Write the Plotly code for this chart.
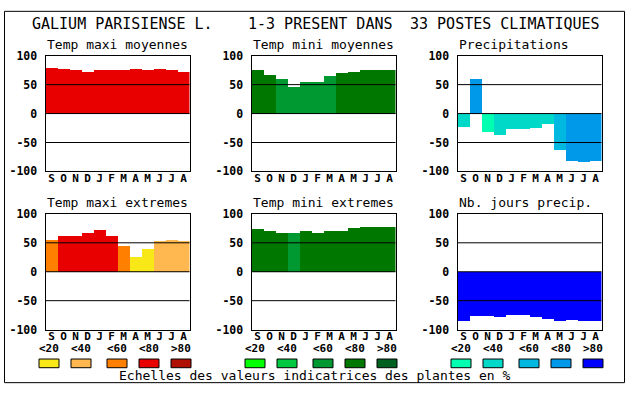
import plotly.graph_objects as go

W, H = 630, 394

months = ["S", "O", "N", "D", "J", "F", "M", "A", "M", "J", "J", "A"]
y_ticks = [-100, -50, 0, 50, 100]
classes = ["<20", "<40", "<60", "<80", ">80"]

temp_colors = ["#F8E818", "#FFB850", "#FF8000", "#E80000", "#B01000"]
tmin_colors = ["#00FF00", "#00C840", "#009830", "#007800", "#006020"]
prec_colors = ["#00FFB0", "#00D8C8", "#00B8E0", "#0098E8", "#0000FF"]

tmax_moy = [80, 77, 75, 73, 75, 75, 75, 77, 75, 77, 75, 73]
tmax_moy_cls = [3, 3, 3, 3, 3, 3, 3, 3, 3, 3, 3, 3]
tmin_moy = [75, 67, 60, 47, 55, 55, 65, 70, 73, 75, 75, 75]
tmin_moy_cls = [3, 3, 2, 2, 2, 2, 2, 3, 3, 3, 3, 3]
prec = [-22, 60, -31, -36, -26, -26, -24, -18, -62, -82, -84, -81]
prec_cls = [1, 3, 0, 1, 1, 1, 1, 1, 2, 3, 3, 3]
tmax_ext = [55, 62, 62, 68, 72, 62, 44, 25, 40, 54, 55, 54]
tmax_ext_cls = [2, 3, 3, 3, 3, 3, 2, 0, 0, 1, 1, 1]
tmin_ext = [74, 70, 68, 68, 70, 68, 70, 70, 75, 77, 77, 77]
tmin_ext_cls = [3, 3, 3, 2, 3, 3, 3, 3, 3, 3, 3, 3]
nb_jours = [-85, -76, -76, -78, -74, -74, -78, -81, -85, -83, -85, -85]
nb_jours_cls = [4, 4, 4, 4, 4, 4, 4, 4, 4, 4, 4, 4]

title_parts = ["GALIUM PARISIENSE L.", "1-3 PRESENT DANS", "33 POSTES CLIMATIQUES"]
panel_titles = ["Temp maxi moyennes", "Temp mini moyennes", "Precipitations",
                "Temp maxi extremes", "Temp mini extremes", "Nb. jours precip."]
footer = "Echelles des valeurs indicatrices des plantes en %"

MONO = "DejaVu Sans Mono"

panels = [
    (tmax_moy, tmax_moy_cls, temp_colors),
    (tmin_moy, tmin_moy_cls, tmin_colors),
    (prec, prec_cls, prec_colors),
    (tmax_ext, tmax_ext_cls, temp_colors),
    (tmin_ext, tmin_ext_cls, tmin_colors),
    (nb_jours, nb_jours_cls, prec_colors),
]

col_left = [45.5, 251.5, 457.5]
plot_w = 144
row_top = [50.5, 214.5]
plot_h = 120


def px_x(p):
    return p / W


def px_y(p):
    return 1 - p / H


fig = go.Figure()
shapes = []
annotations = []
layout_axes = {}

for i, (vals, cls, cols) in enumerate(panels):
    n = i + 1
    r, c = divmod(i, 3)
    xs = "" if n == 1 else str(n)
    x0p, x1p = col_left[c], col_left[c] + plot_w
    y0p, y1p = row_top[r], row_top[r] + plot_h
    fig.add_trace(go.Bar(
        x=list(range(len(months))), y=vals,
        marker=dict(color=[cols[k] for k in cls], line=dict(width=0)),
        width=1.0, xaxis="x" + xs, yaxis="y" + xs, showlegend=False,
        hoverinfo="skip",
    ))
    layout_axes["xaxis" + xs] = dict(
        domain=[px_x(x0p), px_x(x1p)], anchor="y" + xs,
        range=[-0.5, 11.5], tickvals=list(range(12)), ticktext=months,
        showgrid=False, zeroline=False, showline=True, mirror=True,
        linecolor="black", linewidth=1, ticks="",
        ticklabelstandoff=-4,
        tickfont=dict(family=MONO, size=11, color="black", weight="bold"),
        fixedrange=True,
    )
    layout_axes["yaxis" + xs] = dict(
        domain=[px_y(y1p), px_y(y0p)], anchor="x" + xs,
        range=[-100, 100], tickvals=y_ticks, ticktext=[str(v) for v in y_ticks],
        showgrid=False, zeroline=False, showline=True, mirror=True,
        linecolor="black", linewidth=1, ticks="outside", ticklen=5,
        tickcolor="rgba(0,0,0,0)",
        tickfont=dict(family=MONO, size=11.5, color="black", weight="bold"),
        fixedrange=True,
    )
    for v in (50, 0, -50):
        shapes.append(dict(type="line", xref="x" + xs + " domain", x0=0, x1=1,
                           yref="y" + xs, y0=v, y1=v, layer="above",
                           line=dict(color="black", width=1)))
    annotations.append(dict(
        text=panel_titles[i], xref="paper", yref="paper",
        x=px_x(x0p - 1), y=px_y(y0p - 11.5), xanchor="left", yanchor="middle",
        showarrow=False, font=dict(family=MONO, size=13, color="black"),
    ))
    # legend under bottom row
    if r == 1:
        offs = [-6.5, 25.5, 61.5, 93.5, 125.5]
        for k, o in enumerate(offs):
            sx0 = x0p + o
            shapes.append(dict(type="rect", xref="paper", yref="paper",
                               x0=px_x(sx0), x1=px_x(sx0 + 20),
                               y0=px_y(374), y1=px_y(365),
                               fillcolor=cols[k], line=dict(color="black", width=1)))
            annotations.append(dict(
                text=classes[k], xref="paper", yref="paper",
                x=px_x(sx0 + 10), y=px_y(354.5), xanchor="center", yanchor="middle",
                showarrow=False,
                font=dict(family=MONO, size=11, color="black", weight="bold"),
            ))

# main title
for txt, xp in zip(title_parts, [31, 247, 409]):
    annotations.append(dict(
        text=txt, xref="paper", yref="paper", x=px_x(xp - 1), y=px_y(18),
        xanchor="left", yanchor="middle", showarrow=False,
        font=dict(family=MONO, size=15, color="black"),
    ))

annotations.append(dict(
    text=footer, xref="paper", yref="paper", x=px_x(315), y=px_y(382.5),
    xanchor="center", yanchor="middle", showarrow=False,
    font=dict(family=MONO, size=13, color="black"),
))

# outer frame
shapes.append(dict(type="rect", xref="paper", yref="paper",
                   x0=px_x(4.5), x1=px_x(624.5), y0=px_y(389.5), y1=px_y(4.5),
                   line=dict(color="black", width=1), fillcolor="rgba(0,0,0,0)"))

fig.update_layout(
    width=W, height=H, margin=dict(l=0, r=0, t=0, b=0),
    paper_bgcolor="white", plot_bgcolor="white",
    bargap=0, shapes=shapes, annotations=annotations,
    showlegend=False, **layout_axes,
)

fig.write_html("out.html", config={"displayModeBar": False},
               post_script="document.body.style.margin='0';")
